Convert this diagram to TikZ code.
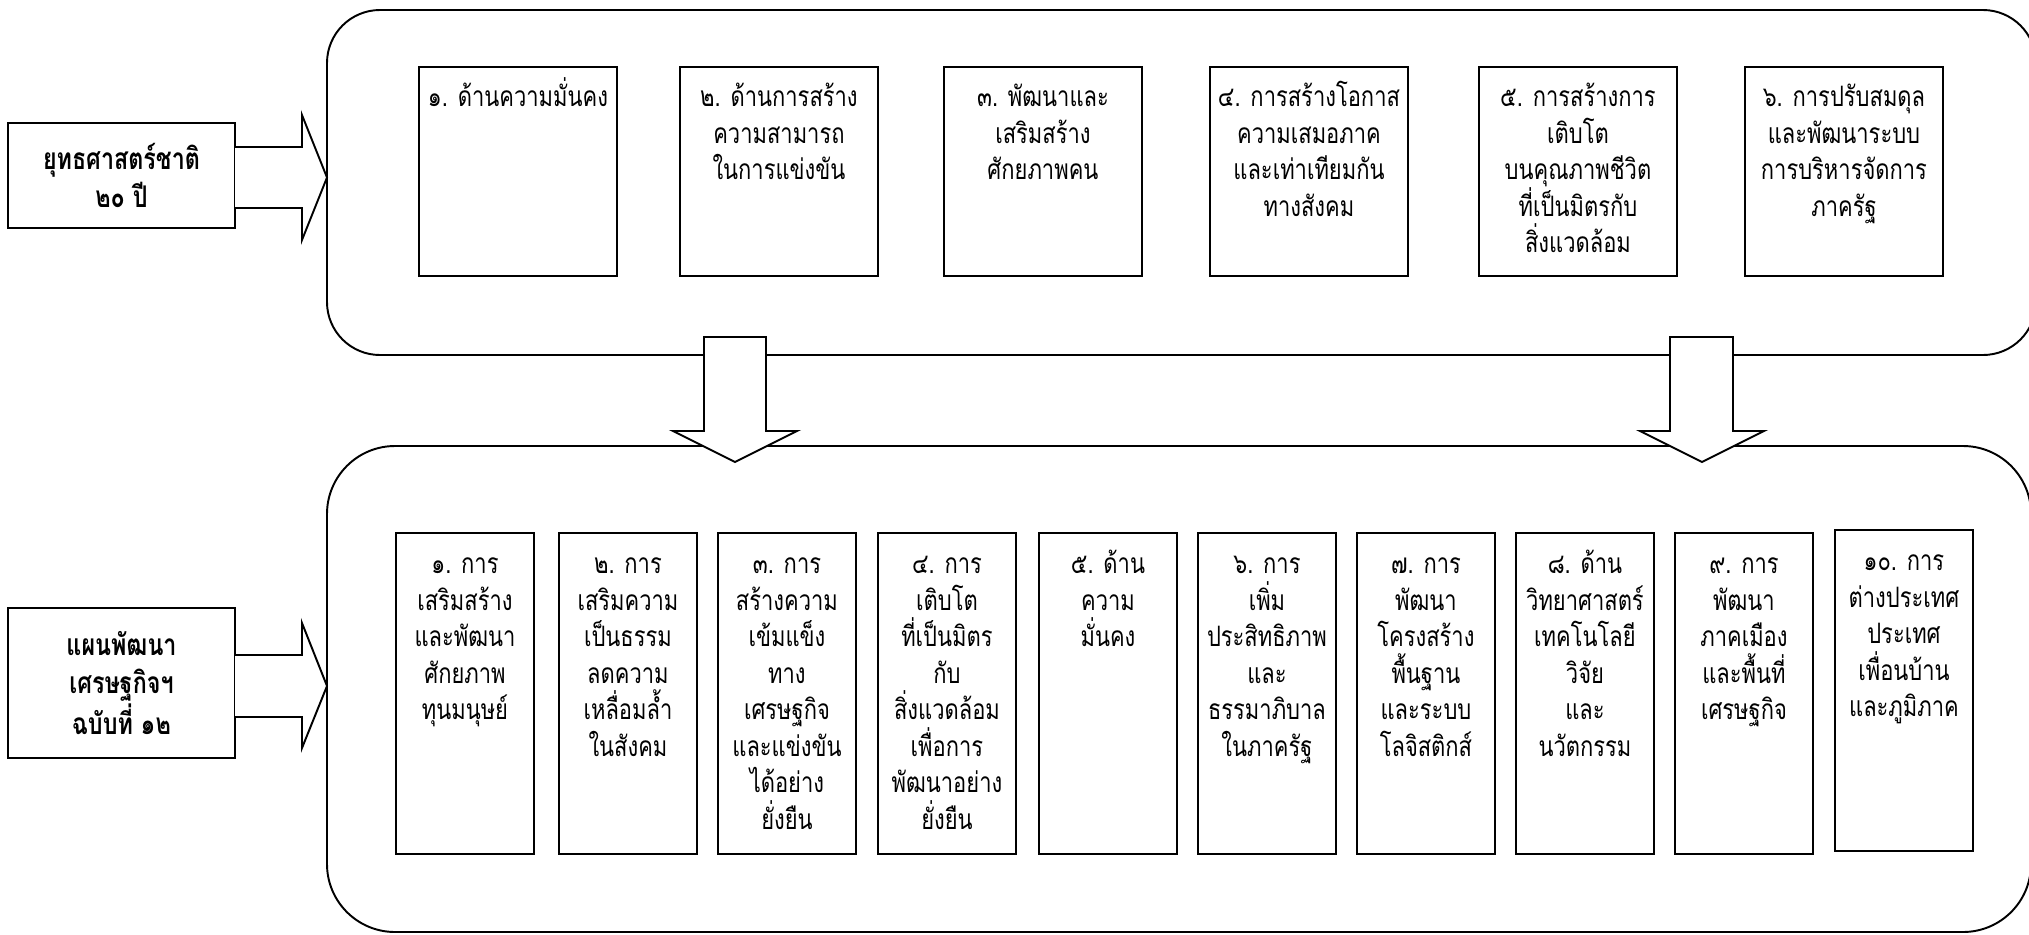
\documentclass[tikz,border=0pt]{standalone}
\usepackage{fontspec}
\newfontfamily\thaifont[Script=Thai, FakeStretch=0.78]{Loma}
\newcommand\tstrut{\rule{0pt}{18pt}}

\begin{document}
\begin{tikzpicture}[x=0.02cm, y=-0.02cm, line width=1.1pt,
    sbox/.style={draw, inner sep=0pt, anchor=north west, minimum width=3.96cm, minimum height=4.18cm},
    pbox/.style={draw, inner sep=0pt, anchor=north west, minimum width=2.76cm, minimum height=6.42cm},
    txt/.style={anchor=north, align=center, inner sep=0pt, font=\thaifont\fontsize{16}{20.8}\selectfont},
    hbox/.style={draw, align=center, inner sep=0pt, minimum width=4.54cm, font=\thaifont\bfseries\fontsize{17}{21.5}\selectfont}]
      \useasboundingbox (0,0) rectangle (2029,934);
      \clip (0,0) rectangle (2029,934);
      % the two big frames
      \draw[rounded corners=1.06cm] (327,10) rectangle (2036,355);
      \draw[rounded corners=1.36cm] (327,446) rectangle (2031,932);
      % left titles
      \node[hbox, minimum height=2.1cm] (yut) at (121.5,175.5) {ยุทธศาสตร์ชาติ\\ ๒๐ ปี};
      \node[hbox, minimum height=3cm] (plan) at (121.5,683) {แผนพัฒนา\\ เศรษฐกิจฯ\\ ฉบับที่ ๑๒};
      \filldraw[fill=white] (235,147) -- (302,147) -- (302,115) -- (327,177.5) -- (302,240) -- (302,208) -- (235,208);
      \filldraw[fill=white] (235,655) -- (302,655) -- (302,623) -- (327,686) -- (302,748) -- (302,717) -- (235,717);
      % down arrows
      \filldraw[fill=white] (704,337) -- (766,337) -- (766,431) -- (797,431) -- (735,462) -- (673,431) -- (704,431) -- cycle;
      \filldraw[fill=white] (1670,337) -- (1733,337) -- (1733,431) -- (1764,431) -- (1702,462) -- (1640,431) -- (1670,431) -- cycle;
      % strategy boxes
      \node[sbox] (s1) at (418,66) {};
      \node[sbox] (s2) at (679,66) {};
      \node[sbox] (s3) at (943,66) {};
      \node[sbox] (s4) at (1209,66) {};
      \node[sbox] (s5) at (1478,66) {};
      \node[sbox] (s6) at (1744,66) {};
      \node[txt] (ts1) at ([yshift=-0.16cm]s1.north) {\tstrut ๑. ด้านความมั่นคง};
      \node[txt] (ts2) at ([yshift=-0.16cm]s2.north) {\tstrut ๒. ด้านการสร้าง\\ ความสามารถ\\ ในการแข่งขัน};
      \node[txt] (ts3) at ([yshift=-0.16cm]s3.north) {\tstrut ๓. พัฒนาและ\\ เสริมสร้าง\\ ศักยภาพคน};
      \node[txt] (ts4) at ([yshift=-0.16cm]s4.north) {\tstrut ๔. การสร้างโอกาส\\ ความเสมอภาค\\ และเท่าเทียมกัน\\ ทางสังคม};
      \node[txt] (ts5) at ([yshift=-0.16cm]s5.north) {\tstrut ๕. การสร้างการ\\ เติบโต\\ บนคุณภาพชีวิต\\ ที่เป็นมิตรกับ\\ สิ่งแวดล้อม};
      \node[txt] (ts6) at ([yshift=-0.16cm]s6.north) {\tstrut ๖. การปรับสมดุล\\ และพัฒนาระบบ\\ การบริหารจัดการ\\ ภาครัฐ};
      % plan boxes
      \node[pbox] (p1) at (395,532) {};
      \node[pbox] (p2) at (558,532) {};
      \node[pbox] (p3) at (717,532) {};
      \node[pbox] (p4) at (877,532) {};
      \node[pbox] (p5) at (1038,532) {};
      \node[pbox] (p6) at (1197,532) {};
      \node[pbox] (p7) at (1356,532) {};
      \node[pbox] (p8) at (1515,532) {};
      \node[pbox] (p9) at (1674,532) {};
      \node[pbox] (p10) at (1834,529) {};
      \node[txt] (tp1) at ([yshift=-0.18cm]p1.north) {\tstrut ๑. การ\\ เสริมสร้าง\\ และพัฒนา\\ ศักยภาพ\\ ทุนมนุษย์};
      \node[txt] (tp2) at ([yshift=-0.18cm]p2.north) {\tstrut ๒. การ\\ เสริมความ\\ เป็นธรรม\\ ลดความ\\ เหลื่อมล้ำ\\ ในสังคม};
      \node[txt] (tp3) at ([yshift=-0.18cm]p3.north) {\tstrut ๓. การ\\ สร้างความ\\ เข้มแข็ง\\ ทาง\\ เศรษฐกิจ\\ และแข่งขัน\\ ได้อย่าง\\ ยั่งยืน};
      \node[txt] (tp4) at ([yshift=-0.18cm]p4.north) {\tstrut ๔. การ\\ เติบโต\\ ที่เป็นมิตร\\ กับ\\ สิ่งแวดล้อม\\ เพื่อการ\\ พัฒนาอย่าง\\ ยั่งยืน};
      \node[txt] (tp5) at ([yshift=-0.18cm]p5.north) {\tstrut ๕. ด้าน\\ ความ\\ มั่นคง};
      \node[txt] (tp6) at ([yshift=-0.18cm]p6.north) {\tstrut ๖. การ\\ เพิ่ม\\ ประสิทธิภาพ\\ และ\\ ธรรมาภิบาล\\ ในภาครัฐ};
      \node[txt] (tp7) at ([yshift=-0.18cm]p7.north) {\tstrut ๗. การ\\ พัฒนา\\ โครงสร้าง\\ พื้นฐาน\\ และระบบ\\ โลจิสติกส์};
      \node[txt] (tp8) at ([yshift=-0.18cm]p8.north) {\tstrut ๘. ด้าน\\ วิทยาศาสตร์\\ เทคโนโลยี\\ วิจัย\\ และ\\ นวัตกรรม};
      \node[txt] (tp9) at ([yshift=-0.18cm]p9.north) {\tstrut ๙. การ\\ พัฒนา\\ ภาคเมือง\\ และพื้นที่\\ เศรษฐกิจ};
      \node[txt] (tp10) at ([yshift=-0.18cm]p10.north) {\tstrut ๑๐. การ\\ ต่างประเทศ\\ ประเทศ\\ เพื่อนบ้าน\\ และภูมิภาค};
    \end{tikzpicture}
\end{document}
